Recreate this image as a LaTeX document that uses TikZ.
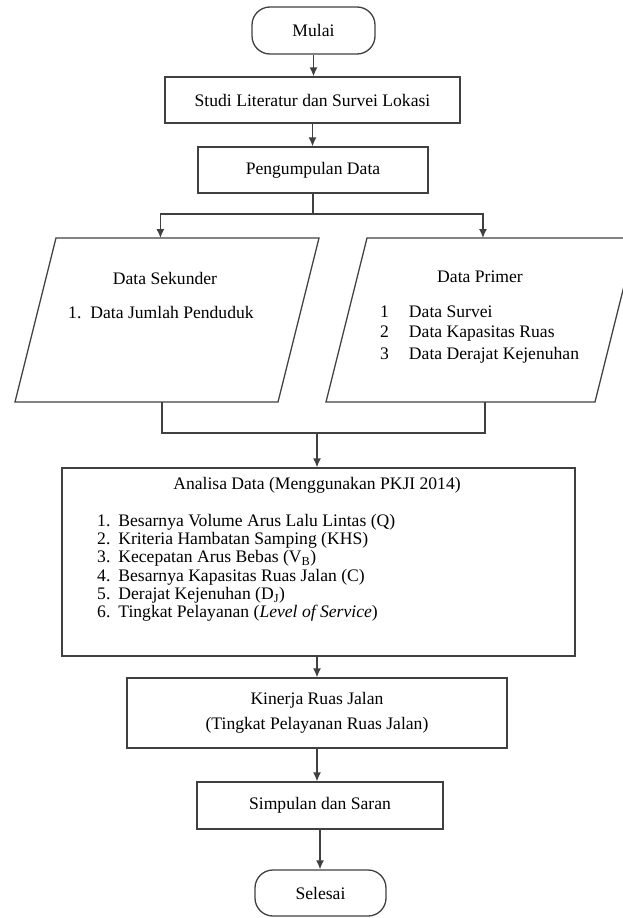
\documentclass[tikz,border=0pt]{standalone}
\usepackage{fontspec}
\setmainfont{Liberation Serif}
\usepackage{tikz}
\usetikzlibrary{calc,arrows.meta}

\tikzset{
  line/.style={draw=black!75, line width=1.3pt},
  arr/.style={line, -{Latex[length=9pt,width=8pt]}},
  proc/.style={line, rectangle, inner sep=0pt, align=center},
  term/.style={line, rectangle, rounded corners=18pt, inner sep=0pt},
  txt/.style={inner sep=0pt}
}

\begin{document}
\begin{tikzpicture}[x=1pt, y=-1pt, font=\fontsize{17.6}{21}\selectfont]
    \useasboundingbox (0,0) rectangle (623,918);

    % Start and first steps
    \node[term, minimum width=123pt, minimum height=47pt] (mulai) at (313.5,30.5) {Mulai};
    \node[proc, minimum width=295pt, minimum height=46pt] (studi) at (312.5,100) {Studi Literatur dan Survei Lokasi};
    \node[proc, minimum width=230pt, minimum height=46pt] (peng) at (313,170) {Pengumpulan Data};

    % Data boxes (parallelograms)
    \coordinate (sekTL) at (56,238);
    \coordinate (sekTR) at (319,238);
    \coordinate (sekBR) at (278,402);
    \coordinate (sekBL) at (15,402);
    \coordinate (primTL) at (367,238);
    \coordinate (primTR) at (636,238);
    \coordinate (primBR) at (595,402);
    \coordinate (primBL) at (326,402);
    \draw[line] (sekTL) -- (sekTR) -- (sekBR) -- (sekBL) -- cycle;
    \draw[line] (primTL) -- (primTR) -- (primBR) -- (primBL) -- cycle;

    \node[txt] (sekT) at (165,278) {Data Sekunder};
    \node[txt, anchor=west] (sek1) at (68,313) {1.\hspace{9pt}Data Jumlah Penduduk};

    \node[txt] (primT) at (480,277) {Data Primer};
    \node[txt, anchor=west] (prim1) at (380,312) {1\hspace{20pt}Data Survei};
    \node[txt, anchor=west] (prim2) at (380,333.5) {2\hspace{20pt}Data Kapasitas Ruas};
    \node[txt, anchor=west] (prim3) at (380,355) {3\hspace{20pt}Data Derajat Kejenuhan};

    % Analysis
    \node[proc, minimum width=513pt, minimum height=188pt] (ana) at (318.5,562) {};
    \node[txt] (anaT) at (317,485) {Analisa Data (Menggunakan PKJI 2014)};
    \node[txt, anchor=west] (ana1) at (97,522) {1.\hspace{8pt}Besarnya Volume Arus Lalu Lintas (Q)};
    \node[txt, anchor=west] (ana2) at (97,540.3) {2.\hspace{8pt}Kriteria Hambatan Samping (KHS)};
    \node[txt, anchor=west] (ana3) at (97,558.6) {3.\hspace{8pt}Kecepatan Arus Bebas (V\textsubscript{B})};
    \node[txt, anchor=west] (ana4) at (97,576.9) {4.\hspace{8pt}Besarnya Kapasitas Ruas Jalan (C)};
    \node[txt, anchor=west] (ana5) at (97,595.2) {5.\hspace{8pt}Derajat Kejenuhan (D\textsubscript{J})};
    \node[txt, anchor=west] (ana6) at (97,613.5) {6.\hspace{8pt}Tingkat Pelayanan (\textit{Level of Service})};

    % Result and end
    \node[proc, minimum width=380pt, minimum height=70pt, font=\fontsize{17.6}{25}\selectfont] (kin) at (317,713)
        {Kinerja Ruas Jalan\\(Tingkat Pelayanan Ruas Jalan)};
    \node[proc, minimum width=246pt, minimum height=47pt] (simp) at (320,805.5) {Simpulan dan Saran};
    \node[term, minimum width=131pt, minimum height=46pt] (sel) at (320.5,893) {Selesai};

    % Connectors
    \coordinate (j1) at (313,214);
    \coordinate (j2) at (317,433);
    \coordinate (sekin) at ($(sekTL)!0.397!(sekTR)$);
    \coordinate (primin) at ($(primTL)!0.431!(primTR)$);
    \coordinate (sekout) at ($(sekBL)!0.559!(sekBR)$);
    \coordinate (primout) at ($(primBL)!0.591!(primBR)$);

    \draw[arr] (mulai.south) -- (mulai.south |- studi.north);
    \draw[arr] (studi.south) -- (studi.south |- peng.north);
    \draw[line] (peng.south) -- (j1);
    \draw[arr] (j1) -| (sekin);
    \draw[arr] (j1) -| (primin);
    \draw[line] (sekout) |- (j2) -| (primout);
    \draw[arr] (j2) -- (j2 |- ana.north);
    \draw[arr] (kin.north |- ana.south) -- (kin.north);
    \draw[arr] (kin.south) -- (kin.south |- simp.north);
    \draw[arr] (simp.south) -- (simp.south |- sel.north);
\end{tikzpicture}
\end{document}
